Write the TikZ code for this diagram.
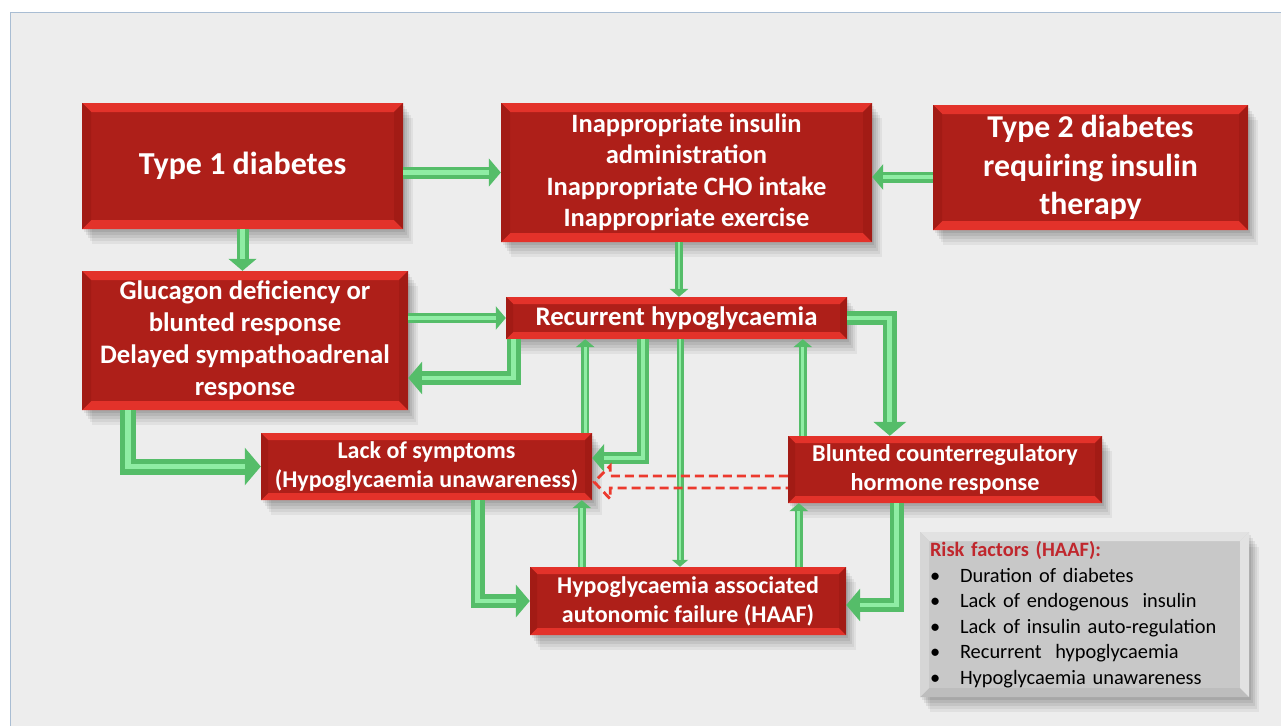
\documentclass[tikz,border=0pt]{standalone}
\usepackage{fontspec}
\setmainfont{Carlito}
\usetikzlibrary{arrows.meta,shadows,calc}
\definecolor{bred}{HTML}{AE1F19}
\definecolor{bredl}{HTML}{E3322A}
\definecolor{bredd}{HTML}{A21B15}
\definecolor{panel}{HTML}{EDEDED}
\definecolor{panelline}{HTML}{A9BDD3}
\definecolor{gmid}{HTML}{55BD69}
\definecolor{glight}{HTML}{8FEDA4}
\definecolor{dashred}{HTML}{EC3A2E}
\definecolor{riskred}{HTML}{C0272D}
\definecolor{graybox}{HTML}{C8C8C8}
\definecolor{graytop}{HTML}{E2E2E2}
\definecolor{grayside}{HTML}{D6D6D6}
\definecolor{graybot}{HTML}{BDBDBD}

\newcommand\mybevel[5]{%
  \fill[#2] (path picture bounding box.north west) -- (path picture bounding box.north east)
    -- ([xshift=-#1,yshift=-#1]path picture bounding box.north east)
    -- ([xshift=#1,yshift=-#1]path picture bounding box.north west) -- cycle;
  \fill[#5] (path picture bounding box.south west) -- (path picture bounding box.south east)
    -- ([xshift=-#1,yshift=#1]path picture bounding box.south east)
    -- ([xshift=#1,yshift=#1]path picture bounding box.south west) -- cycle;
  \fill[#3] (path picture bounding box.north west) -- (path picture bounding box.south west)
    -- ([xshift=#1,yshift=#1]path picture bounding box.south west)
    -- ([xshift=#1,yshift=-#1]path picture bounding box.north west) -- cycle;
  \fill[#4] (path picture bounding box.north east) -- (path picture bounding box.south east)
    -- ([xshift=-#1,yshift=#1]path picture bounding box.south east)
    -- ([xshift=-#1,yshift=-#1]path picture bounding box.north east) -- cycle;
}

\tikzset{
  boxshadow/.style={
    drop shadow={shadow xshift=2pt, shadow yshift=-3pt, opacity=0.07, fill=black},
    drop shadow={shadow xshift=4pt, shadow yshift=-6pt, opacity=0.07, fill=black},
    drop shadow={shadow xshift=6pt, shadow yshift=-9pt, opacity=0.07, fill=black},
    drop shadow={shadow xshift=8pt, shadow yshift=-12pt, opacity=0.06, fill=black},
    drop shadow={shadow xshift=10pt, shadow yshift=-15pt, opacity=0.05, fill=black}},
  rbox/.style={rectangle, fill=bred, text=white, align=center, inner sep=0pt,
    font=\bfseries, boxshadow,
    path picture={\mybevel{#1}{bredl}{bredd}{bredd}{bredl}}},
  rbox/.default=9pt,
  gbox/.style={rectangle, fill=graybox, align=left, inner sep=0pt, boxshadow,
    path picture={\mybevel{9pt}{graytop}{grayside}{graytop}{graybot}}},
  garrow/.style={draw=gmid, line width=#1pt, line join=miter, line cap=butt,
    -{Triangle[width=0pt 2.3, length=0pt 1.0]},
    postaction={draw=glight, line width=0.35*#1pt, arrows=-, shorten >=#1pt}},
  rdash/.style={draw=dashred, line width=2.8pt, dash pattern=on 9pt off 5pt, line join=miter},
}

\begin{document}
\begin{tikzpicture}[x=1pt, y=-1pt]
\useasboundingbox (0,0) rectangle (1281,725);
\fill[white] (0,0) rectangle (1281,725);
\draw[panelline, fill=panel, line width=1pt] (10.5,12.5) rectangle (1290,735);

% nodes
\node[rbox, minimum width=321pt, minimum height=126pt, font=\fontsize{32}{38}\selectfont\bfseries]
  (t1) at (242.5,166) {Type 1 diabetes};
\node[rbox, minimum width=371pt, minimum height=139pt, font=\fontsize{26.5}{31.5}\selectfont\bfseries]
  (inap) at (686.5,172.5) {Inappropriate insulin\\administration\\Inappropriate CHO intake\\Inappropriate exercise};
\node[rbox, minimum width=315pt, minimum height=125pt, font=\fontsize{31.8}{38.5}\selectfont\bfseries]
  (t2) at (1090.5,167.5) {Type 2 diabetes\\requiring insulin\\therapy};
\node[rbox, minimum width=326pt, minimum height=139pt, font=\fontsize{26.7}{32}\selectfont\bfseries]
  (glu) at (245,340.5) {Glucagon deficiency or\\blunted response\\Delayed sympathoadrenal\\response};
\node[rbox=7pt, minimum width=341pt, minimum height=42pt, font=\fontsize{26.8}{30}\selectfont\bfseries]
  (rec) at (676.5,318) {Recurrent hypoglycaemia};
\node[rbox=7pt, minimum width=331pt, minimum height=67pt, font=\fontsize{24}{29}\selectfont\bfseries]
  (lack) at (426.5,466.5) {Lack of symptoms\\(Hypoglycaemia unawareness)};
\node[rbox=7pt, minimum width=314pt, minimum height=67pt, font=\fontsize{24.2}{29}\selectfont\bfseries]
  (blunt) at (945,469.5) {Blunted counterregulatory\\hormone response};
\node[rbox=7pt, minimum width=316pt, minimum height=68pt, font=\fontsize{24}{29}\selectfont\bfseries]
  (haaf) at (688,601) {Hypoglycaemia associated\\autonomic failure (HAAF)};
\node[gbox, minimum width=329pt, minimum height=165pt, text width=309pt,
  font=\fontsize{20.4}{25.5}\selectfont]
  (risk) at (1084.5,614.5) {{\color{riskred}\bfseries Risk factors (HAAF):}\\
  \makebox[30pt][l]{\textbullet}Duration of diabetes\\
  \makebox[30pt][l]{\textbullet}Lack of endogenous\ \ insulin\\
  \makebox[30pt][l]{\textbullet}Lack of insulin auto-regulation\\
  \makebox[30pt][l]{\textbullet}Recurrent\ \ hypoglycaemia\\
  \makebox[30pt][l]{\textbullet}Hypoglycaemia unawareness};

% helper coordinates on node borders
\coordinate (a2) at ([yshift=-9.5pt]t2.west);
\coordinate (a4) at ([xshift=-7.5pt]inap.south);
\coordinate (a6) at ([xshift=8pt]rec.south west);
\coordinate (a7) at ([xshift=46pt]glu.south west);
\coordinate (a8) at ([xshift=-7pt]lack.north east);
\coordinate (a9) at ([xshift=-33.5pt]rec.south);
\coordinate (a10) at ([xshift=3.5pt]rec.south);
\coordinate (a11) at ([xshift=15pt]blunt.north west);
\coordinate (a12) at ([xshift=102pt]blunt.north west);
\coordinate (a13) at ([xshift=217pt]lack.south west);
\coordinate (a14) at ([xshift=52pt]haaf.north west);
\coordinate (a15) at ([xshift=11pt]blunt.south west);
\coordinate (a16) at ([xshift=109pt]blunt.south west);

% green connectors
\draw[garrow=12] (t1.east |- inap.west) -- (inap.west);
\draw[garrow=11] (a2) -- (a2 -| inap.east);
\draw[garrow=12] (t1.south) -- (t1.south |- glu.north);
\draw[garrow=8] (a4) -- (a4 |- rec.north);
\draw[garrow=10] (rec.west -| glu.east) -- (rec.west);
\draw[garrow=14] (a6) |- ([yshift=-37.5pt]glu.east);
\draw[garrow=16] (a7) |- (lack.west);
\draw[garrow=8] (a8) -- (a8 |- rec.south);
\draw[garrow=12] (a9) |- ([yshift=8.5pt]lack.east);
\draw[garrow=7] (a10) -- (a10 |- haaf.north);
\draw[garrow=8] (a11) -- (a11 |- rec.south);
\draw[garrow=14] (rec.east) -| (a12);
\draw[garrow=14] (a13) |- (haaf.west);
\draw[garrow=8] (a14) -- (a14 |- lack.south);
\draw[garrow=8] (a15 |- haaf.north) -- (a15);
\draw[garrow=14] (a16) |- ([yshift=-4pt]haaf.east);

% dashed red block arrow
\draw[rdash] ([yshift=-6.5pt]blunt.west) -- ([xshift=18pt,yshift=-9.5pt]lack.east)
  -- ([xshift=18pt,yshift=0.5pt]lack.east) -- ([xshift=2pt,yshift=-15.5pt]lack.east)
  -- ([xshift=18pt,yshift=-32.5pt]lack.east) -- ([xshift=18pt,yshift=-21.5pt]lack.east)
  -- ([yshift=-18.5pt]blunt.west);
\end{tikzpicture}
\end{document}
